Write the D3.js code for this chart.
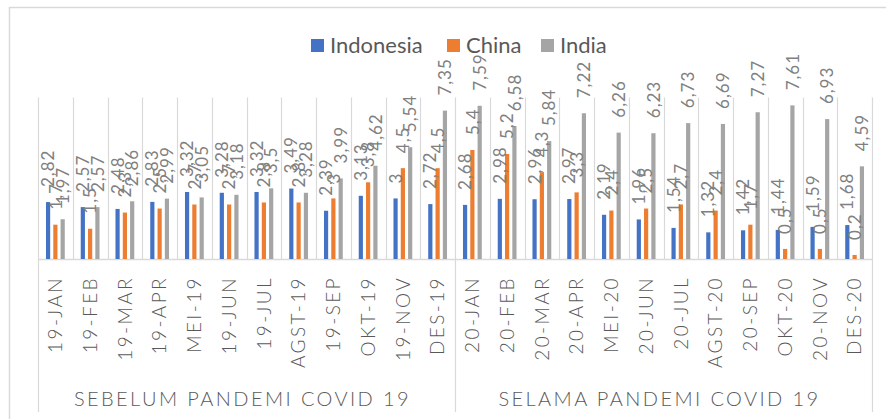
<!DOCTYPE html>
<html>
<head>
<meta charset="utf-8">
<script src="https://cdn.jsdelivr.net/npm/d3@7"></script>
<style>
  body { margin: 0; background: #fff; }
  svg { display: block; font-family: Lato, "Open Sans", sans-serif; }
</style>
</head>
<body>
<div id="chart"></div>
<script>
// data
const months = ['19-JAN','19-FEB','19-MAR','19-APR','MEI-19','19-JUN','19-JUL','AGST-19','19-SEP','OKT-19','19-NOV','DES-19',
                '20-JAN','20-FEB','20-MAR','20-APR','MEI-20','20-JUN','20-JUL','AGST-20','20-SEP','OKT-20','20-NOV','DES-20'];
const periods = ['SEBELUM PANDEMI COVID 19', 'SELAMA PANDEMI COVID 19'];
const series = ['Indonesia', 'China', 'India'];
const indonesia = [2.82,2.57,2.48,2.83,3.32,3.28,3.32,3.49,2.39,3.13,3,2.72,2.68,2.98,2.96,2.97,2.19,1.96,1.54,1.32,1.42,1.44,1.59,1.68];
const china     = [1.7,1.5,2.3,2.5,2.7,2.7,2.8,2.8,3,3.8,4.5,4.5,5.4,5.2,4.3,3.3,2.4,2.5,2.7,2.4,1.7,0.5,0.5,0.2];
const india     = [1.97,2.57,2.86,2.99,3.05,3.18,3.5,3.28,3.99,4.62,5.54,7.35,7.59,6.58,5.84,7.22,6.26,6.23,6.73,6.69,7.27,7.61,6.93,4.59];
const colors = ['#4472c4', '#ed7d31', '#a5a5a5'];

const values = [indonesia, china, india];
const width = 886, height = 419;
const plotLeft = 38, plotRight = 872, plotTop = 97.5, baseY = 259;
const gridColor = '#d9d9d9';

const svg = d3.select('#chart').append('svg')
    .attr('width', width)
    .attr('height', height);

// chart border (right / bottom edges fall outside the picture)
svg.append('rect')
    .attr('x', 9.5).attr('y', 7.5)
    .attr('width', 900).attr('height', 430)
    .attr('fill', 'none')
    .attr('stroke', gridColor)
    .attr('stroke-width', 1.5);

const xScale = d3.scaleBand().domain(months).range([plotLeft, plotRight]);
const inner = d3.scaleBand().domain(series).range([-9.4, 9.4]).paddingInner(0.425);
const yScale = d3.scaleLinear().domain([0, 8]).range([baseY, plotTop]);

// vertical gridlines at category edges, period edges run down through the labels
const edges = months.map((m, i) => i).concat([months.length]);
svg.append('g').selectAll('line').data(edges).enter().append('line')
    .attr('x1', i => Math.round(plotLeft + i * xScale.step()) + 0.5)
    .attr('x2', i => Math.round(plotLeft + i * xScale.step()) + 0.5)
    .attr('y1', plotTop)
    .attr('y2', i => i % 12 === 0 ? 412 : baseY)
    .attr('stroke', gridColor)
    .attr('stroke-width', 1.2);

// axis line
svg.append('line')
    .attr('x1', plotLeft).attr('x2', plotRight)
    .attr('y1', baseY + 0.5).attr('y2', baseY + 0.5)
    .attr('stroke', gridColor)
    .attr('stroke-width', 1.5);

// bars
const rows = [];
series.forEach((s, si) => {
    months.forEach((m, mi) => rows.push({ s: s, si: si, m: m, v: values[si][mi] }));
});

svg.append('g').selectAll('rect').data(rows).enter().append('rect')
    .attr('x', d => xScale(d.m) + xScale.bandwidth() / 2 + inner(d.s))
    .attr('y', d => yScale(d.v))
    .attr('width', inner.bandwidth())
    .attr('height', d => baseY - yScale(d.v))
    .attr('fill', d => colors[d.si]);

// data labels, rotated
svg.append('g').selectAll('text').data(rows).enter().append('text')
    .attr('transform', d => `translate(${xScale(d.m) + xScale.bandwidth() / 2 + inner(d.s) + inner.bandwidth() / 2},${yScale(d.v) - 15}) rotate(-90)`)
    .attr('dy', '0.36em')
    .attr('text-anchor', 'start')
    .style('font-size', '17px')
    .style('letter-spacing', '1px')
    .style('fill', '#808080')
    .text(d => String(d.v).replace('.', ','));

// category labels
svg.append('g').selectAll('text').data(months).enter().append('text')
    .attr('transform', m => `translate(${xScale(m) + xScale.bandwidth() / 2},276) rotate(-90)`)
    .attr('dy', '0.36em')
    .attr('text-anchor', 'end')
    .style('font-size', '19px')
    .style('font-weight', 300)
    .style('letter-spacing', '2.4px')
    .style('fill', '#595959')
    .text(m => m);

// period labels
svg.append('g').selectAll('text').data(periods).enter().append('text')
    .attr('x', (p, i) => plotLeft + (i * 12 + 6) * xScale.step() - 4)
    .attr('y', 406)
    .attr('text-anchor', 'middle')
    .style('font-size', '20px')
    .style('font-weight', 300)
    .style('letter-spacing', '2.4px')
    .style('fill', '#595959')
    .text(p => p);

// legend
const legendX = [311, 447, 541];
const legend = svg.append('g').selectAll('g').data(series).enter().append('g')
    .attr('transform', (s, i) => `translate(${legendX[i]},39)`);
legend.append('rect')
    .attr('width', 13).attr('height', 13)
    .attr('fill', (s, i) => colors[i]);
legend.append('text')
    .attr('x', 19).attr('y', 14)
    .style('font-size', '22px')
    .style('fill', '#595959')
    .text(s => s);
</script>
</body>
</html>
